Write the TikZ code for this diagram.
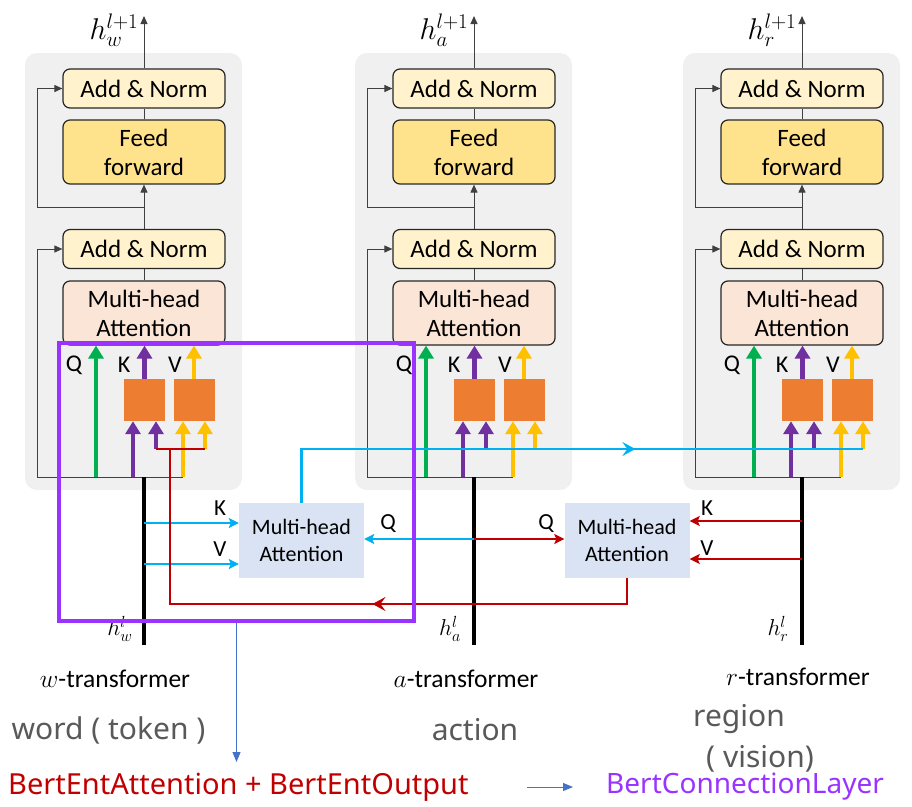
\documentclass[tikz,border=0pt]{standalone}
\usepackage{fix-cm}
\usepackage{fontspec}
\setmainfont{Carlito}
\newfontfamily\notof{Noto Sans}
\usetikzlibrary{arrows.meta,decorations.markings,calc}
\definecolor{bgg}{RGB}{240,240,240}
\definecolor{anfill}{RGB}{255,242,204}
\definecolor{fffill}{RGB}{255,226,140}
\definecolor{mhfill}{RGB}{251,229,214}
\definecolor{orng}{RGB}{237,125,49}
\definecolor{grn}{RGB}{0,176,80}
\definecolor{prp}{RGB}{112,48,160}
\definecolor{ylw}{RGB}{255,192,0}
\definecolor{cyn}{RGB}{0,176,240}
\definecolor{rd}{RGB}{192,0,0}
\definecolor{lblue}{RGB}{218,227,243}
\definecolor{frm}{RGB}{153,51,255}
\definecolor{bl}{RGB}{68,114,196}
\definecolor{gtx}{RGB}{89,89,89}
\definecolor{dk}{RGB}{38,38,38}
\definecolor{ln}{RGB}{64,64,64}
\begin{document}
\begin{tikzpicture}[x=1pt,y=-1pt,
 box/.style={draw=dk,line width=1.2pt,rounded corners=7pt,minimum width=162pt,inner sep=0pt,align=center,font=\fontsize{25}{29}\selectfont},
 anbox/.style={box,fill=anfill,minimum height=39pt},
 ffbox/.style={box,fill=fffill,minimum height=64pt},
 mhbox/.style={box,fill=mhfill,minimum height=64pt},
 obox/.style={fill=orng,minimum width=41pt,minimum height=42pt,inner sep=0pt},
 cbox/.style={fill=lblue,minimum width=125pt,minimum height=75pt,inner sep=0pt,align=center,font=\fontsize{22}{27}\selectfont},
 thinl/.style={draw=ln,line width=1pt},
 thinarr/.style={thinl,-{Triangle[width=7pt,length=8pt]}},
 fat/.style={line width=4.5pt,-{Triangle[width=15pt,length=13pt]}},
 garr/.style={fat,draw=grn,fill=grn},
 parr/.style={fat,draw=prp,fill=prp},
 yarr/.style={fat,draw=ylw,fill=ylw},
 cl/.style={draw=cyn,line width=2.2pt},
 carr/.style={cl,-{Stealth[width=10pt,length=10pt,inset=2pt]}},
 rl/.style={draw=rd,line width=2.2pt},
 rarr/.style={rl,-{Stealth[width=10pt,length=10pt,inset=2pt]}},
 midarr/.style={postaction={decorate},decoration={markings,mark=at position #1 with {\arrow{Stealth[length=13pt,width=14pt,inset=5pt]}}}},
 lbl/.style={font=\fontsize{24}{24}\selectfont,inner sep=0pt},
 lbls/.style={font=\fontsize{23}{23}\selectfont,inner sep=0pt},
 tl/.style={font=\fontsize{25.5}{26}\selectfont,inner sep=0pt},
 gt/.style={font=\notof\fontsize{30}{30}\selectfont,text=gtx,inner sep=0pt},
 blarr/.style={draw=bl,line width=1pt,-{Triangle[width=8pt,length=10pt]}}
]
\useasboundingbox (0,0) rectangle (912,806);
\foreach \o/\cn in {0/w,330/a,658/r}{
\begin{scope}[xshift=\o pt]
\fill[bgg,rounded corners=12pt] (25,53) rectangle (242,490);
\node[anbox] (ant-\cn) at (144,88.5) {Add \& Norm};
\node[ffbox] (ff-\cn) at (144,152) {Feed\\forward};
\node[anbox] (anb-\cn) at (144,249) {Add \& Norm};
\node[mhbox] (mh-\cn) at (144,313) {Multi-head\\Attention};
\coordinate (top-\cn) at (144,16);
\draw[thinarr] (ant-\cn.north) -- (top-\cn);
\node[font=\fontsize{30}{30}\selectfont,inner sep=0pt] (ho-\cn) at (114,30) {$h_{\cn}^{l+1}$};
\draw[thinl] (ff-\cn.north) -- (ant-\cn.south);
\coordinate (sp-\cn) at (144,207);
\coordinate (sq-\cn) at (37,207);
\draw[thinarr] (anb-\cn.north) -- (ff-\cn.south);
\draw[thinarr] (sp-\cn) -- (sq-\cn) |- (ant-\cn.west);
\draw[thinl] (mh-\cn.north) -- (anb-\cn.south);
\coordinate (sk-\cn) at (37,477);
\coordinate (base-\cn) at (144,477);
\coordinate (q-\cn) at (96,477);
\coordinate (k1-\cn) at (133,477);
\coordinate (k2-\cn) at (156,449);
\coordinate (v1-\cn) at (183,477);
\coordinate (v2-\cn) at (205,449);
\coordinate (in-\cn) at (144,645);
\draw[thinarr] (sk-\cn) |- (anb-\cn.west);
\draw[thinl] (sk-\cn) -- (v1-\cn);
\node[obox] (o1-\cn) at (144.5,400) {};
\node[obox] (o2-\cn) at (194,400) {};
\draw[garr] (q-\cn) -- (q-\cn |- mh-\cn.south);
\draw[parr] (o1-\cn.north) -- (o1-\cn.north |- mh-\cn.south);
\draw[yarr] (o2-\cn.north) -- (o2-\cn.north |- mh-\cn.south);
\draw[parr] (k1-\cn) -- (k1-\cn |- o1-\cn.south);
\draw[parr] (k2-\cn) -- (k2-\cn |- o1-\cn.south);
\draw[yarr] (v1-\cn) -- (v1-\cn |- o2-\cn.south);
\draw[yarr] (v2-\cn) -- (v2-\cn |- o2-\cn.south);
\draw[line width=3.5pt] (base-\cn) -- (in-\cn);
\node[lbl] (ql-\cn) at (74,365) {Q};
\node[lbl] (kl-\cn) at (124,365) {K};
\node[lbl] (vl-\cn) at (175,365) {V};
\node[font=\fontsize{23}{23}\selectfont,inner sep=0pt] (hi-\cn) at (120,629) {$h_{\cn}^{l}$};
\end{scope}}
% cross attention blocks
\node[cbox] (ca1) at (301.5,540.5) {Multi-head\\Attention};
\node[cbox] (ca2) at (627,540) {Multi-head\\Attention};
\coordinate (kw) at (144,523);
\coordinate (vw) at (144,564);
\draw[carr] (kw) -- (kw -| ca1.west);
\draw[carr] (vw) -- (vw -| ca1.west);
\coordinate (qa) at (474,539);
\draw[carr] (qa) -- (qa -| ca1.east);
\draw[rarr] (qa) -- (qa -| ca2.west);
\coordinate (kr) at (802,521);
\coordinate (vr) at (802,559);
\draw[rarr] (kr) -- (kr -| ca2.east);
\draw[rarr] (vr) -- (vr -| ca2.east);
\draw[cl,midarr=0.63] (ca1.north) |- (v2-r);
\draw[rl] (k2-w) -- (v2-w);
\coordinate (rj) at (170,449);
\coordinate (rc) at (170,604);
\draw[rl,midarr=0.44] (ca2.south) |- (rc) -- (rj);
\node[lbls] (kla) at (220,508) {K};
\node[lbls] (vla) at (220,549) {V};
\node[lbls] (qla) at (388,524) {Q};
\node[lbls] (qlb) at (546,524) {Q};
\node[lbls] (klb) at (707,508) {K};
\node[lbls] (vlb) at (707,548) {V};
% purple frame
\node[draw=frm,line width=3.5pt,minimum width=355pt,minimum height=278pt,inner sep=0pt] (frame) at (236.5,482) {};
\coordinate (ba) at (236.5,762);
\draw[blarr] (frame.south) -- (ba);
% bottom labels
\node[tl] (wt) at (115,679) {$w$-transformer};
\node[tl] (at) at (466,679) {$a$-transformer};
\node[tl] (rt) at (798,677) {$r$-transformer};
\node[gt] (wd) at (108.5,730) {word ( token )};
\node[gt] (ac) at (475,730) {action};
\node[gt] (rg) at (739,719) {region};
\node[gt] (vs) at (760,759) {( vision)};
\node[anchor=west,text=rd,font=\notof\fontsize{29}{29}\selectfont,inner sep=0pt] (be) at (8,787) {BertEntAttention + BertEntOutput};
\node[anchor=west,text=frm,font=\notof\fontsize{28}{28}\selectfont,inner sep=0pt] (bc) at (606,787) {BertConnectionLayer};
\coordinate (sa1) at (527,787);
\coordinate (sa2) at (573,787);
\draw[blarr] (sa1) -- (sa2);
\end{tikzpicture}
\end{document}
